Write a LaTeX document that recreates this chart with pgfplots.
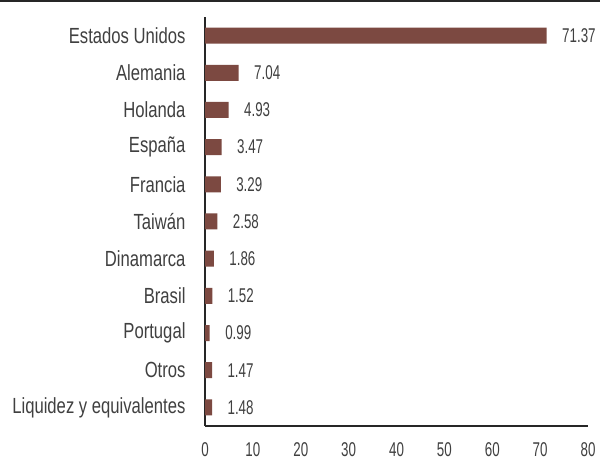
\documentclass[border=0pt]{standalone}
\usepackage{pgfplots}
\pgfplotsset{compat=1.18}
\usepackage{fontspec}
\setmainfont[FakeStretch=0.76]{Liberation Sans}
\newfontfamily\numfont[FakeStretch=0.67]{Liberation Sans}
\definecolor{barc}{RGB}{124,73,65}
\definecolor{txt}{RGB}{64,64,64}
\definecolor{axc}{RGB}{38,38,38}
\begin{document}
\begin{tikzpicture}[x=1bp,y=1bp]
\useasboundingbox (0,0) rectangle (600,461);
\fill[white] (0,0) rectangle (600,461);
\draw[axc, line width=2bp] (0,460) -- (600,460);
\begin{axis}[
  at={(205bp,35bp)}, anchor=south west,
  scale only axis, width=383bp, height=409bp,
  xmin=0, xmax=80, ymin=-0.5, ymax=10.5,
  axis x line*=bottom, axis y line*=left,
  axis line style={axc, line width=1.3bp},
  xtick={0,10,...,80}, ytick={0,...,10},
  yticklabels={Liquidez y equivalentes, Otros, Portugal, Brasil, Dinamarca, Taiwán, Francia, España, Holanda, Alemania, Estados Unidos},
  major tick length=0pt,
  tick style={draw=none},
  /pgf/number format/assume math mode=true,
  xticklabel style={font=\numfont\fontsize{20}{20}\selectfont, text=txt, yshift=-13bp},
  yticklabel style={font=\fontsize{22}{22}\selectfont, text=txt, xshift=-16bp},
  clip=false,
  nodes near coords,
  point meta=explicit symbolic,
  every node near coord/.append style={font=\numfont\fontsize{20}{20}\selectfont, text=txt, anchor=west, xshift=12bp},
]
\addplot[xbar, bar width=16bp, fill=barc, draw=none] table[meta=lab] {
x y lab
1.48 0 1.48
1.47 1 1.47
0.99 2 0.99
1.52 3 1.52
1.86 4 1.86
2.58 5 2.58
3.29 6 3.29
3.47 7 3.47
4.93 8 4.93
7.04 9 7.04
71.37 10 71.37
};
\end{axis}
\end{tikzpicture}
\end{document}
